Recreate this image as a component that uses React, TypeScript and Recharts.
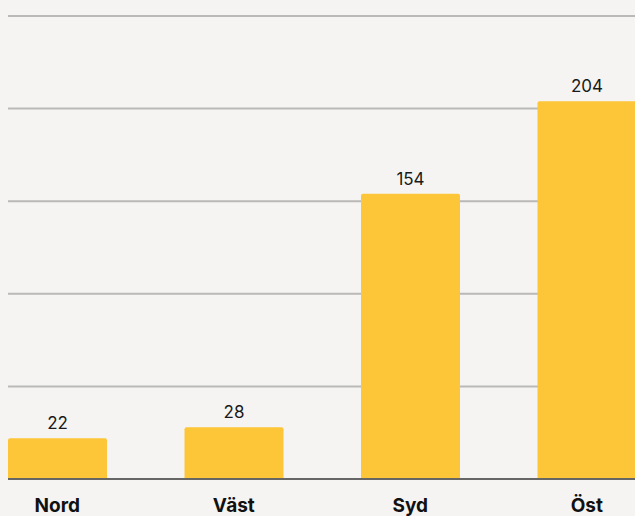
import { BarChart, Bar, XAxis, YAxis, CartesianGrid, LabelList } from 'recharts';

const regions = ['Nord', 'Väst', 'Syd', 'Öst'];
const counts = [22, 28, 154, 204];
const yTicks = [0, 50, 100, 150, 200, 250];

const data = regions.map((region, i) => ({ region, count: counts[i] }));

document.body.style.margin = '0';
document.body.style.background = '#f5f4f2';

export default function App() {
  return (
    <div style={{ width: 635, height: 516, background: '#f5f4f2', fontFamily: 'Inter, sans-serif' }}>
      <div style={{ marginLeft: 8, width: 627, height: 516, overflow: 'hidden', position: 'relative' }}>
        <div style={{ position: 'absolute', left: -39, top: 0 }}>
          <BarChart
            width={706}
            height={516}
            data={data}
            margin={{ top: 16, right: 0, left: 0, bottom: 0 }}
            barSize={99}
          >
            <CartesianGrid vertical={false} stroke="#bab9b7" strokeWidth={2} />
            <YAxis hide domain={[0, 250]} ticks={yTicks} />
            <XAxis
              dataKey="region"
              height={37}
              tickLine={false}
              axisLine={{ stroke: '#666666', strokeWidth: 2 }}
              tick={{ fontSize: 19, fontWeight: 700, fill: '#111111' }}
              tickMargin={14}
            />
            <Bar dataKey="count" fill="#fdc538" radius={[2, 2, 0, 0]} isAnimationActive={false}>
              <LabelList dataKey="count" position="top" offset={9} style={{ fontSize: 17, fill: '#1a1a1a' }} />
            </Bar>
          </BarChart>
        </div>
      </div>
    </div>
  );
}
